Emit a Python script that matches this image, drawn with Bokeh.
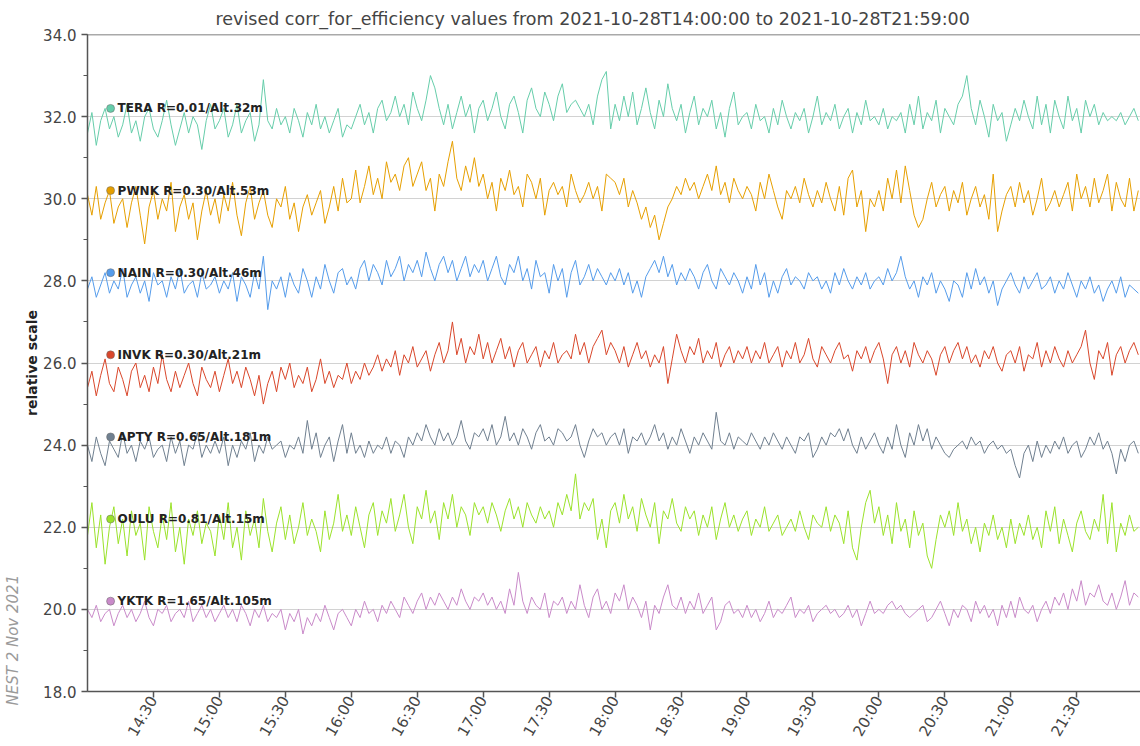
import math
import pandas as pd
from bokeh.plotting import figure
from bokeh.models import (ColumnDataSource, Range1d, DatetimeTickFormatter, FixedTicker,
                          Title, SingleIntervalTicker, NumeralTickFormatter, Span)
from bokeh.embed import file_html
from bokeh.resources import INLINE
from bokeh.core.properties import value

TITLE = "revised corr_for_efficiency values from 2021-10-28T14:00:00 to 2021-10-28T21:59:00"
stations = ["TERA", "PWNK", "NAIN", "INVK", "APTY", "OULU", "YKTK"]
cutoffs = ["0.01", "0.30", "0.30", "0.30", "0.65", "0.81", "1.65"]
altitudes = [32, 53, 46, 21, 181, 15, 105]
baselines = [32.0, 30.0, 28.0, 26.0, 24.0, 22.0, 20.0]
colors = ["#66CDAA", "#E69F00", "#559CEB", "#D9472B", "#708090", "#9BE22B", "#C98AC9"]
tick_labels = ["14:30", "15:00", "15:30", "16:00", "16:30", "17:00", "17:30", "18:00",
               "18:30", "19:00", "19:30", "20:00", "20:30", "21:00", "21:30"]

# 2-minute samples, 14:00 .. 21:58 (one row per hour)
tera = [
    31.6, 32.1, 31.3, 31.9, 32.2, 31.7, 32.0, 31.5, 31.8, 32.3, 31.6, 31.9, 31.4, 32.0, 32.2, 31.7, 31.5, 31.9, 32.4, 31.8, 31.3, 31.7, 32.1, 31.6, 32.0, 31.8, 31.2, 31.9, 32.3, 31.7,
    31.9, 32.2, 31.5, 31.8, 32.3, 31.6, 31.9, 32.1, 31.4, 31.8, 32.9, 31.9, 31.7, 32.2, 31.8, 32.0, 31.6, 32.2, 31.9, 31.5, 32.1, 31.8, 32.3, 31.7, 32.0, 31.6, 31.9, 32.2, 31.5, 31.8,
    31.7, 32.0, 32.3, 31.8, 32.1, 31.6, 32.2, 32.4, 31.9, 32.1, 32.5, 32.0, 32.3, 31.8, 32.6, 32.2, 31.9, 32.4, 33.0, 32.7, 32.2, 31.8, 32.3, 31.7, 32.1, 32.5, 32.0, 32.3, 31.6, 32.2,
    32.4, 31.9, 32.2, 32.6, 32.0, 31.7, 32.3, 32.5, 32.1, 31.6, 32.4, 32.7, 32.2, 32.0, 32.6, 32.3, 31.9, 32.5, 32.8, 32.1, 32.3, 32.4, 32.2, 32.0, 32.3, 31.8, 32.5, 32.9, 33.1, 31.7,
    32.3, 31.9, 32.5, 32.0, 32.6, 31.8, 32.2, 32.7, 32.1, 31.7, 32.4, 32.0, 32.8, 32.2, 31.9, 32.3, 31.6, 32.1, 32.5, 31.8, 32.2, 32.0, 32.4, 31.7, 32.1, 31.5, 32.2, 32.6, 31.8, 32.0,
    32.1, 31.7, 32.3, 31.9, 32.0, 31.6, 32.2, 31.8, 32.4, 32.0, 31.7, 32.1, 31.9, 32.2, 31.6, 32.0, 32.5, 31.8, 32.1, 31.9, 32.3, 31.7, 32.0, 32.2, 31.6, 32.1, 31.8, 32.4, 31.9, 32.0,
    31.8, 32.2, 31.7, 32.0, 31.9, 32.1, 31.6, 32.3, 31.8, 32.5, 31.7, 32.1, 31.9, 32.4, 31.6, 32.2, 32.0, 31.8, 32.3, 32.5, 33.0, 32.2, 31.8, 32.4, 32.0, 31.5, 32.3, 31.9, 32.1, 31.4,
    31.8, 32.2, 31.9, 32.4, 32.0, 31.7, 32.5, 31.8, 32.3, 31.6, 32.4, 32.0, 31.7, 32.5, 31.9, 32.2, 31.6, 32.4, 32.0, 32.3, 31.8, 32.1, 31.9, 32.0, 31.9, 32.1, 31.8, 32.0, 32.2, 31.9,
]
pwnk = [
    30.1, 29.6, 30.3, 29.5, 29.9, 30.2, 29.4, 29.8, 30.0, 29.3, 29.9, 30.3, 29.6, 28.9, 29.8, 30.2, 29.5, 30.0, 29.7, 30.4, 29.2, 29.8, 30.1, 29.5, 29.9, 29.0, 29.7, 30.2, 29.6, 30.0,
    29.4, 30.1, 29.7, 30.4, 29.6, 29.1, 29.9, 30.3, 29.5, 29.9, 30.2, 29.6, 29.3, 30.0, 29.8, 30.3, 29.5, 29.9, 29.2, 29.8, 30.1, 29.6, 29.9, 30.2, 29.4, 29.8, 30.3, 29.7, 30.5, 29.9,
    30.0, 30.7, 29.9, 30.3, 30.8, 30.1, 30.5, 30.0, 30.9, 30.4, 30.6, 30.2, 30.8, 31.0, 30.3, 30.6, 30.9, 30.2, 30.5, 29.7, 30.6, 30.3, 30.9, 31.4, 30.5, 30.2, 30.8, 30.4, 31.0, 30.3,
    30.6, 30.0, 30.4, 29.7, 30.5, 30.2, 30.7, 30.1, 30.3, 29.8, 30.6, 30.4, 30.0, 30.5, 29.6, 30.2, 30.4, 30.1, 30.3, 29.8, 30.6, 30.2, 29.9, 30.1, 30.4, 30.0, 30.3, 29.7, 30.6, 30.5,
    30.4, 30.1, 30.5, 29.8, 30.2, 29.9, 29.5, 29.8, 29.3, 29.6, 29.0, 29.4, 29.8, 30.0, 30.3, 30.1, 30.5, 30.2, 30.4, 30.0, 30.3, 30.6, 30.2, 30.8, 30.1, 30.4, 29.9, 30.5, 30.2, 30.0,
    30.3, 30.1, 29.7, 30.4, 30.0, 30.6, 30.2, 29.8, 29.5, 30.2, 30.0, 30.3, 29.9, 30.5, 30.1, 29.8, 30.2, 29.9, 30.4, 30.0, 29.7, 30.3, 29.6, 30.5, 30.7, 29.8, 30.2, 29.2, 30.0, 29.8,
    30.2, 29.7, 30.5, 30.0, 30.7, 29.9, 30.8, 30.2, 29.6, 29.3, 29.5, 30.0, 30.4, 29.8, 30.1, 30.3, 29.7, 30.2, 29.9, 30.4, 29.6, 30.0, 30.3, 29.8, 30.1, 29.5, 30.6, 29.2, 29.7, 30.1,
    30.3, 29.8, 30.4, 29.9, 30.2, 29.6, 30.0, 30.5, 29.7, 29.9, 30.2, 29.8, 30.1, 30.4, 29.7, 30.6, 30.0, 30.3, 29.8, 30.5, 29.9, 30.2, 30.6, 29.7, 30.4, 30.0, 29.8, 30.5, 29.7, 30.2,
]
nain = [
    27.8, 28.1, 27.6, 27.9, 28.2, 27.7, 28.0, 27.8, 28.3, 27.6, 27.9, 28.1, 27.7, 28.0, 27.5, 28.2, 27.9, 28.0, 27.6, 28.1, 27.8, 28.3, 27.7, 27.9, 28.0, 27.6, 28.2, 27.8, 27.9, 28.1,
    27.7, 28.0, 27.8, 28.2, 27.5, 28.1, 27.9, 27.6, 28.2, 27.8, 28.6, 27.3, 28.0, 27.8, 28.1, 27.6, 28.2, 27.9, 27.7, 28.3, 28.0, 27.6, 28.1, 27.8, 28.4, 28.0, 27.7, 28.2, 28.3, 27.9,
    28.1, 27.8, 28.3, 28.5, 28.0, 28.4, 28.2, 27.9, 28.5, 28.1, 28.3, 28.6, 28.0, 28.4, 28.2, 28.5, 28.1, 28.7, 28.3, 28.0, 28.4, 28.6, 28.2, 28.5, 28.0, 28.3, 28.6, 28.1, 28.4, 28.2,
    28.5, 28.0, 28.3, 28.6, 28.1, 27.9, 28.4, 28.2, 28.6, 28.0, 28.3, 27.8, 28.5, 28.1, 28.2, 27.7, 28.4, 28.0, 28.3, 27.6, 28.2, 28.5, 27.9, 28.1, 28.4, 28.0, 28.3, 28.1, 27.9, 28.2,
    28.0, 28.3, 27.9, 28.2, 27.7, 28.0, 27.6, 28.1, 28.3, 28.5, 28.2, 28.6, 28.1, 28.4, 27.9, 28.2, 28.0, 28.3, 28.1, 27.8, 28.2, 28.4, 28.0, 27.8, 28.3, 28.1, 27.9, 28.2, 28.0, 27.7,
    28.1, 27.8, 28.4, 27.9, 28.2, 27.6, 28.0, 27.7, 28.1, 28.3, 27.9, 28.1, 28.0, 27.8, 28.2, 28.0, 28.1, 27.8, 28.0, 27.7, 28.2, 27.9, 28.3, 28.0, 27.8, 28.1, 27.9, 28.2, 27.8, 28.0,
    28.1, 27.9, 28.3, 28.0, 28.2, 28.6, 28.1, 27.8, 28.0, 27.6, 28.1, 27.9, 28.2, 27.7, 28.0, 27.8, 27.5, 28.0, 27.9, 27.6, 28.2, 27.8, 28.3, 27.9, 28.1, 27.7, 28.0, 27.4, 27.8, 28.0,
    28.2, 27.9, 27.7, 28.1, 27.8, 28.0, 28.2, 27.8, 27.9, 28.1, 27.7, 28.0, 27.8, 28.2, 27.9, 27.6, 28.0, 27.8, 28.1, 27.7, 27.9, 27.5, 27.8, 28.0, 27.7, 28.1, 27.6, 27.9, 27.8, 27.7,
]
invk = [
    25.4, 25.8, 25.2, 25.7, 26.1, 25.5, 25.3, 25.9, 25.6, 25.2, 25.8, 26.0, 25.4, 25.7, 25.3, 25.9, 25.5, 26.2, 25.6, 25.3, 25.8, 25.4, 25.7, 26.0, 25.5, 25.2, 25.9, 25.6, 25.4, 25.8,
    25.3, 25.7, 26.1, 25.5, 25.8, 25.4, 25.9, 25.6, 25.2, 25.7, 25.0, 25.5, 25.8, 25.3, 25.9, 25.6, 26.0, 25.4, 25.7, 25.5, 25.9, 25.3, 25.6, 26.1, 25.5, 25.8, 25.4, 25.7, 25.6, 26.0,
    25.5, 25.8, 25.6, 26.0, 25.7, 25.9, 26.2, 25.8, 26.1, 25.9, 26.3, 25.7, 26.2, 26.0, 26.4, 25.9, 26.1, 26.3, 25.8, 26.2, 26.5, 26.0, 26.3, 27.0, 26.2, 26.6, 26.0, 26.4, 26.2, 26.7,
    26.1, 26.5, 26.0, 26.3, 26.6, 26.1, 26.4, 25.9, 26.3, 26.5, 26.0, 26.2, 26.4, 25.9, 26.3, 26.1, 26.5, 26.0, 26.2, 26.3, 26.1, 26.7, 26.2, 26.5, 26.0, 26.4, 26.6, 26.8, 26.2, 26.5,
    26.3, 26.0, 26.4, 25.9, 26.2, 26.5, 26.1, 26.3, 25.9, 26.2, 26.0, 26.4, 25.5, 26.1, 26.7, 26.3, 26.0, 26.4, 26.2, 26.6, 26.0, 26.3, 26.1, 26.5, 25.9, 26.2, 26.4, 26.0, 26.3, 26.1,
    26.4, 26.0, 26.3, 26.1, 26.5, 26.0, 26.2, 26.4, 25.9, 26.3, 26.1, 26.5, 26.0, 26.2, 26.6, 26.1, 25.9, 26.4, 26.2, 26.0, 26.3, 26.5, 26.1, 26.2, 25.8, 26.3, 26.1, 26.4, 26.0, 26.3,
    26.5, 26.1, 25.5, 26.2, 26.4, 26.0, 26.3, 25.9, 26.5, 26.2, 26.0, 26.3, 26.1, 25.7, 26.2, 26.4, 26.0, 26.3, 26.5, 26.1, 26.4, 26.0, 26.2, 25.9, 26.3, 26.1, 26.4, 26.0, 25.8, 26.2,
    26.3, 26.0, 26.4, 25.8, 26.2, 26.1, 26.5, 25.9, 26.3, 26.0, 26.4, 26.1, 25.9, 26.3, 26.0, 26.2, 26.4, 26.8, 26.0, 25.6, 26.3, 26.1, 26.5, 25.7, 26.2, 26.4, 26.0, 26.3, 26.5, 26.2,
]
apty = [
    24.0, 23.6, 24.2, 23.8, 23.5, 24.1, 23.9, 23.7, 24.3, 23.8, 24.0, 23.6, 24.1, 23.9, 24.2, 23.7, 23.9, 24.0, 23.6, 24.2, 23.8, 24.1, 23.5, 24.0, 23.9, 24.3, 23.7, 24.0, 23.8, 24.1,
    23.8, 24.2, 23.5, 24.0, 23.7, 24.1, 23.9, 24.3, 23.6, 24.0, 23.8, 24.2, 23.9, 24.0, 24.1, 23.7, 24.0, 23.9, 24.2, 23.8, 24.6, 23.9, 24.3, 23.7, 24.0, 24.2, 23.6, 24.1, 24.5, 23.8,
    24.3, 23.8, 24.0, 23.7, 24.1, 23.8, 24.0, 23.9, 24.2, 23.8, 24.1, 24.0, 23.7, 24.2, 24.0, 24.3, 24.1, 24.5, 24.2, 24.0, 24.4, 24.1, 24.3, 24.0, 24.2, 24.6, 24.1, 23.9, 24.3, 24.2,
    24.4, 24.1, 24.5, 24.0, 24.2, 24.7, 24.1, 24.3, 24.0, 24.4, 24.2, 23.9, 24.3, 24.5, 24.1, 24.2, 24.0, 24.4, 24.3, 24.1, 24.2, 24.5, 24.0, 23.7, 24.1, 24.4, 24.2, 24.3, 24.0, 24.2,
    24.3, 24.0, 24.4, 23.8, 24.2, 24.1, 24.3, 24.0, 24.2, 24.5, 24.1, 24.3, 23.9, 24.2, 24.0, 24.4, 24.1, 23.8, 24.2, 24.0, 24.3, 24.1, 23.9, 24.8, 24.1, 24.0, 24.3, 23.9, 24.2, 24.1,
    24.0, 24.3, 24.1, 23.9, 24.2, 24.0, 24.3, 24.1, 23.9, 24.2, 24.0, 23.8, 24.2, 24.1, 24.3, 23.7, 23.9, 24.2, 24.0, 24.3, 24.2, 24.4, 24.1, 24.4, 24.0, 23.8, 24.2, 23.9, 24.1, 24.3,
    24.0, 23.8, 24.2, 23.9, 24.5, 24.0, 23.7, 24.3, 24.0, 24.5, 24.1, 24.4, 23.9, 24.2, 24.0, 23.8, 23.7, 23.9, 24.0, 24.1, 23.9, 24.2, 24.0, 24.1, 23.8, 24.0, 24.1, 23.9, 24.0, 23.8,
    23.9, 23.5, 23.2, 23.8, 24.0, 23.6, 24.1, 23.7, 24.0, 23.8, 24.1, 23.9, 24.2, 23.8, 24.0, 24.1, 23.7, 23.9, 24.2, 24.0, 24.3, 23.9, 24.1, 23.8, 23.3, 23.9, 23.6, 24.0, 24.1, 23.8,
]
oulu = [
    21.8, 22.6, 21.5, 22.3, 21.1, 22.0, 22.5, 21.6, 22.2, 21.3, 22.4, 21.8, 22.1, 21.2, 22.5, 21.9, 21.5, 22.3, 21.7, 22.6, 21.4, 22.0, 21.1, 22.2, 21.8, 22.4, 21.6, 22.1, 21.9, 21.3,
    22.3, 21.7, 22.6, 21.5, 22.0, 21.2, 22.4, 21.8, 22.2, 21.5, 22.7, 21.9, 21.4, 22.1, 22.5, 21.7, 22.3, 21.6, 22.0, 22.6, 21.8, 22.2, 21.9, 21.4, 22.4, 21.7, 22.1, 22.8, 21.9, 22.3,
    21.8, 22.5, 22.0, 21.5, 22.3, 22.6, 21.8, 22.4, 22.1, 22.7, 21.9, 22.3, 22.8, 22.0, 21.6, 22.5, 22.2, 22.9, 22.1, 22.4, 21.7, 22.6, 22.2, 22.8, 22.0, 22.5, 22.3, 21.8, 22.6, 22.3,
    22.5, 22.1, 22.6, 22.3, 21.9, 22.4, 22.7, 22.2, 22.5, 22.0, 22.6, 22.3, 22.1, 22.5, 22.2, 22.4, 22.0, 22.6, 22.3, 22.8, 22.4, 23.3, 22.2, 22.6, 22.4, 22.7, 21.7, 22.2, 21.5, 22.4,
    22.6, 22.1, 22.8, 22.2, 22.5, 21.9, 22.7, 22.3, 22.0, 22.6, 21.6, 22.4, 22.2, 22.7, 22.1, 21.9, 22.5, 22.2, 22.4, 21.8, 22.3, 22.0, 22.5, 21.7, 22.2, 22.6, 22.0, 22.3, 21.9, 22.2,
    22.4, 21.8, 22.2, 22.0, 22.5, 21.9, 22.1, 22.3, 21.8, 22.0, 22.2, 21.9, 22.4, 22.0, 21.7, 22.3, 22.1, 22.0, 22.5, 21.9, 22.3, 22.1, 21.6, 22.4, 21.5, 21.2, 22.0, 22.6, 22.9, 22.1,
    22.5, 21.8, 22.3, 21.6, 22.6, 21.9, 22.2, 21.5, 22.4, 21.8, 22.1, 21.3, 21.0, 21.7, 22.3, 22.0, 22.4, 21.8, 22.6, 21.9, 22.2, 21.6, 22.0, 21.4, 22.1, 21.8, 22.3, 21.7, 22.0, 21.5,
    22.2, 21.6, 22.1, 21.8, 22.3, 21.7, 22.0, 21.5, 22.4, 21.9, 22.5, 21.6, 22.2, 21.8, 21.4, 22.1, 22.4, 21.9, 21.7, 22.2, 21.9, 22.8, 21.6, 22.6, 21.4, 22.1, 21.8, 22.3, 21.9, 22.0,
]
yktk = [
    20.0, 19.8, 20.1, 19.7, 19.9, 20.0, 19.6, 19.9, 20.1, 19.8, 20.0, 19.7, 19.9, 20.2, 19.8, 19.6, 20.0, 19.9, 20.1, 19.7, 19.9, 20.0, 19.8, 20.2, 19.7, 19.9, 20.1, 19.8, 20.0, 19.7,
    19.9, 20.1, 19.8, 20.0, 19.7, 20.1, 19.9, 19.6, 20.0, 19.8, 20.1, 19.7, 19.9, 19.8, 20.0, 19.5, 19.9, 19.7, 20.0, 19.4, 19.8, 19.6, 19.9, 19.7, 20.1, 19.8, 19.5, 19.9, 20.0, 19.8,
    19.6, 20.0, 19.8, 20.2, 19.9, 20.0, 19.7, 20.1, 19.9, 20.2, 20.0, 19.8, 20.3, 20.1, 19.9, 20.2, 20.4, 20.0, 20.3, 20.1, 20.4, 20.2, 20.0, 20.3, 20.1, 20.5, 20.2, 20.0, 20.3, 20.2,
    20.4, 20.1, 20.3, 20.0, 20.2, 19.9, 20.5, 20.1, 20.9, 20.2, 19.9, 20.3, 20.1, 20.0, 20.4, 19.8, 20.2, 20.1, 20.3, 19.9, 20.2, 20.0, 20.6, 20.1, 19.8, 20.3, 20.5, 20.0, 20.2, 19.9,
    20.4, 20.2, 20.6, 20.0, 20.3, 20.1, 19.8, 20.2, 19.5, 20.1, 19.9, 20.3, 20.6, 20.1, 20.0, 20.3, 19.9, 20.2, 20.0, 20.4, 19.9, 20.1, 20.3, 19.5, 19.7, 20.1, 20.2, 19.9, 20.0, 19.8,
    20.1, 19.8, 20.0, 19.7, 19.9, 20.2, 19.8, 20.0, 19.9, 20.1, 20.3, 19.8, 20.0, 19.9, 20.1, 19.7, 19.9, 20.0, 20.1, 19.9, 20.0, 19.8, 19.9, 20.1, 19.8, 20.0, 19.6, 19.9, 20.2, 19.9,
    20.0, 19.9, 20.1, 20.2, 20.0, 20.1, 19.9, 19.8, 19.9, 20.0, 20.1, 19.7, 19.8, 20.0, 20.2, 19.9, 19.6, 20.0, 19.8, 20.1, 20.0, 19.7, 20.2, 19.9, 20.1, 19.8, 20.0, 19.6, 20.1, 19.8,
    20.2, 19.8, 20.3, 20.0, 19.9, 20.1, 19.7, 20.0, 20.2, 19.9, 20.3, 20.1, 20.4, 20.0, 20.5, 20.2, 20.7, 20.1, 20.4, 20.3, 20.6, 20.2, 20.1, 20.4, 20.0, 20.3, 20.7, 20.1, 20.4, 20.3,
]
series = [tera, pwnk, nain, invk, apty, oulu, yktk]

times = pd.date_range("2021-10-28 14:00", periods=len(tera), freq="2min")
t_start = pd.Timestamp("2021-10-28 14:00")
t_end = pd.Timestamp("2021-10-28 21:59")
day = "2021-10-28 "

p = figure(width=1140, height=746, x_axis_type="datetime",
           x_range=Range1d(t_start, t_end), y_range=Range1d(18, 34),
           output_backend="svg", toolbar_location=None,
           min_border_left=87, min_border_right=0, min_border_bottom=40, min_border_top=34)

p.title.text = TITLE
p.title.align = "left"
p.title.offset = 128
p.title.standoff = 12
p.title.text_font = "DejaVu Sans"
p.title.text_font_size = "17.5px"
p.title.text_font_style = "normal"
p.title.text_color = "#444444"

for vals, col in zip(series, colors):
    p.line(times, vals, line_color=col, line_width=1)

# station labels
lab_x = [pd.Timestamp(day + "14:10:30")] * len(stations)
lab_y = [b + 0.2 for b in baselines]
lab_txt = [f"{s} R={r}/Alt.{a}m" for s, r, a in zip(stations, cutoffs, altitudes)]
src = ColumnDataSource(dict(x=lab_x, y=lab_y, t=lab_txt, c=colors))
p.scatter("x", "y", source=src, size=8, fill_color="c", line_color="#666666", line_width=0.5)
p.text("x", "y", text="t", source=src, x_offset=7, text_font=value("DejaVu Sans"),
       text_font_size="12px", text_font_style="bold", text_color="#222222",
       text_baseline="middle", text_align="left")

p.add_layout(Span(location=34, dimension="width", line_color="#555555", line_width=1.5))

p.xgrid.visible = False
p.ygrid.grid_line_color = "#d2d2d2"
p.ygrid.grid_line_width = 1
p.outline_line_color = None

p.xaxis.ticker = FixedTicker(ticks=[pd.Timestamp(day + t).value / 1e6 for t in tick_labels])
p.xaxis.formatter = DatetimeTickFormatter(minsec="%H:%M", minutes="%H:%M", hourmin="%H:%M", hours="%H:%M")
p.xaxis.major_label_orientation = math.pi / 3
p.yaxis.ticker = SingleIntervalTicker(interval=2, num_minor_ticks=2)
p.yaxis.formatter = NumeralTickFormatter(format="0.0")
p.yaxis.axis_label = "relative scale"
p.yaxis.axis_label_text_font_style = "bold"
p.yaxis.axis_label_text_font_size = "14px"
p.yaxis.axis_label_text_color = "#222222"
p.yaxis.axis_label_standoff = 0

for ax in (p.xaxis[0], p.yaxis[0]):
    ax.axis_line_color = "#555555"
    ax.axis_line_width = 1.5
    ax.major_tick_line_color = "#555555"
    ax.major_tick_line_width = 1.5
    ax.minor_tick_line_color = "#555555"
    ax.major_tick_in = 0
    ax.major_tick_out = 6
    ax.minor_tick_in = 0
    ax.minor_tick_out = 4
    ax.major_label_text_font = "DejaVu Sans"
    ax.major_label_text_font_size = "15px"
    ax.major_label_text_color = "#444444"
    ax.axis_label_text_font = "DejaVu Sans"
p.xaxis.minor_tick_line_color = None
p.xaxis.major_label_standoff = 0
p.yaxis.major_label_standoff = 5

p.add_layout(Title(text="NEST  2 Nov 2021", align="left", offset=-14, standoff=0,
                   text_font="DejaVu Sans", text_font_size="15px",
                   text_font_style="italic", text_color="#9a9a9a"), "left")

open("out.html", "w").write(file_html(p, INLINE))
